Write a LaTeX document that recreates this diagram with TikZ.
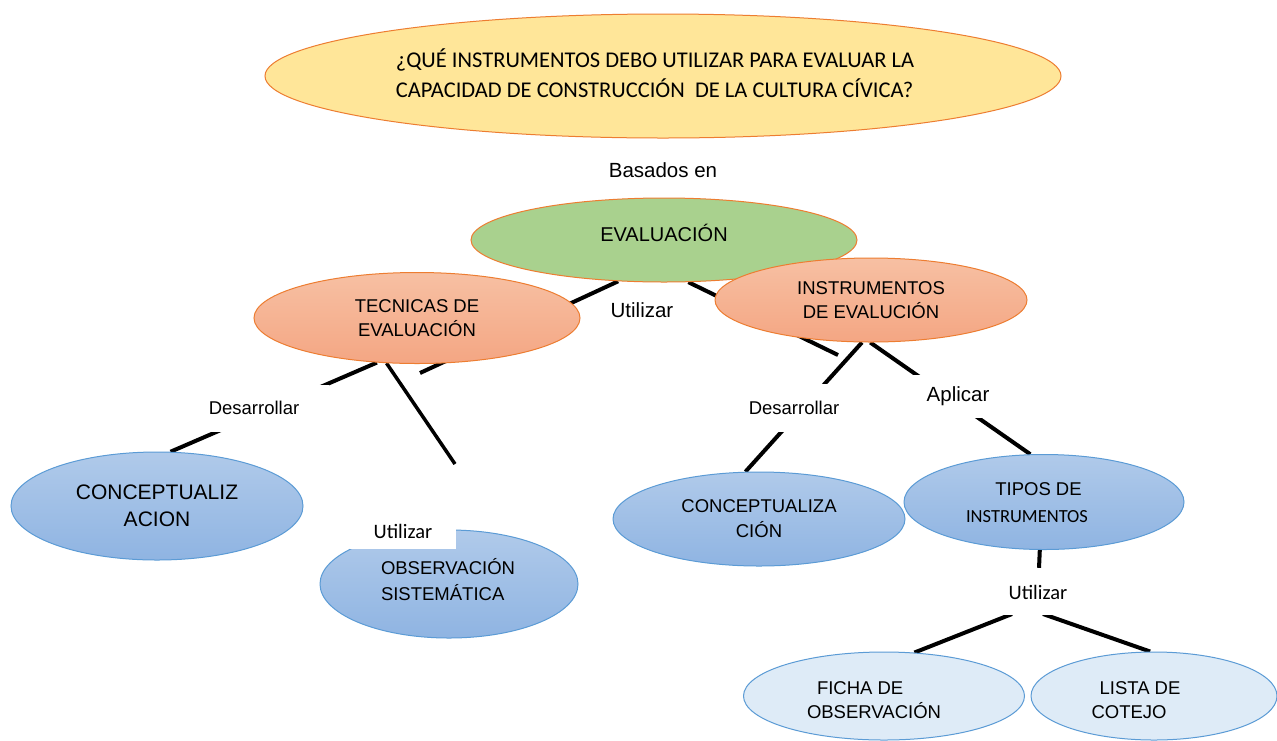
\documentclass[tikz,border=0pt]{standalone}
\usepackage{fontspec}
\setmainfont{Liberation Sans}
\newfontfamily\calib{Carlito}
\usetikzlibrary{shapes.geometric}
\pgfdeclarelayer{bg}
\pgfsetlayers{bg,main}
\definecolor{qy}{HTML}{FFE699}
\definecolor{gr}{HTML}{A9D18E}
\definecolor{org}{HTML}{ED7D31}
\definecolor{salT}{HTML}{F7C0A3}
\definecolor{salB}{HTML}{F4A683}
\definecolor{bluT}{HTML}{B0CAEA}
\definecolor{bluB}{HTML}{8FB4E2}
\definecolor{bluD}{HTML}{5B9BD5}
\definecolor{lb}{HTML}{DEEBF7}
\begin{document}
\begin{tikzpicture}[x=1pt,y=-1pt,
  ell/.style={ellipse, inner sep=0pt, align=center, line width=1pt},
  yell/.style={ell, fill=qy, draw=org},
  green/.style={ell, fill=gr, draw=org},
  salm/.style={ell, top color=salT, bottom color=salB, draw=org},
  blue/.style={ell, top color=bluT, bottom color=bluB, draw=bluD},
  lblue/.style={ell, fill=lb, draw=bluD},
  txt/.style={inner sep=0pt, align=left},
  lbl/.style={fill=white, inner sep=0pt},
  conn/.style={line width=4pt, black},
  f18/.style={font=\fontsize{18.5}{24}\selectfont},
]
\useasboundingbox (0,0) rectangle (1277,740);

% ellipses
\node[yell, minimum width=796, minimum height=124] (q) at (663,76) {};
\node[txt, font=\calib\fontsize{22.5}{30}\selectfont] (qt) at (655,73)
  {¿QUÉ INSTRUMENTOS DEBO UTILIZAR PARA EVALUAR LA\\CAPACIDAD DE CONSTRUCCIÓN\ \ DE LA CULTURA CÍVICA?};
\node[font=\fontsize{20.5}{24}\selectfont, inner sep=0pt] (bas) at (663,170) {Basados en};
\node[green, minimum width=386, minimum height=84, font=\fontsize{20}{24}\selectfont, text height=15pt, text depth=13pt] (eval) at (664,240) {EVALUACIÓN};
\node[salm, minimum width=326, minimum height=91, f18] (tec) at (417,318) {TECNICAS DE\\EVALUACIÓN};
\node[salm, minimum width=312, minimum height=84, f18] (instr) at (871,300) {INSTRUMENTOS\\DE EVALUCIÓN};
\node[blue, minimum width=292, minimum height=108, font=\fontsize{21}{27}\selectfont] (conc1) at (157,506) {CONCEPTUALIZ\\ACION};
\node[blue, minimum width=258, minimum height=108] (obs) at (449,584) {};
\node[txt, font=\fontsize{18.5}{26}\selectfont] (obst) at (448,580) {OBSERVACIÓN\\SISTEMÁTICA};
\node[blue, minimum width=292, minimum height=94, font=\fontsize{18.5}{25}\selectfont] (conc2) at (759,519) {CONCEPTUALIZA\\CIÓN};
\node[blue, minimum width=280, minimum height=95] (tipos) at (1044,502) {};
\node[inner sep=0pt, align=center, font=\fontsize{18.5}{27}\selectfont] (tipost) at (1033,503) {\hspace*{11pt}TIPOS DE\\{\calib INSTRUMENTOS}\hspace*{12pt}};
\node[lblue, minimum width=281, minimum height=88] (ficha) at (884,696) {};
\node[txt, f18] (fichat) at (874,700) {\hspace*{10pt}FICHA DE\\OBSERVACIÓN};
\node[lblue, minimum width=246, minimum height=88] (lista) at (1154,696) {};
\node[txt, f18] (listat) at (1136,700) {\hspace*{8pt}LISTA DE\\COTEJO};

% labels
\node[inner sep=0pt, font=\fontsize{20.5}{24}\selectfont] (u1) at (642,310) {Utilizar};
\node[lbl, minimum width=150, minimum height=47, f18] (d1) at (254,408) {Desarrollar};
\node[lbl, minimum width=106, minimum height=36, font=\calib\fontsize{20.5}{24}\selectfont] (u2) at (403,531) {Utilizar};
\node[lbl, minimum width=110, minimum height=48, f18] (d2) at (794,408) {Desarrollar};
\node[lbl, minimum width=110, minimum height=43, font=\fontsize{20.5}{24}\selectfont] (ap) at (958,396.5) {Aplicar};
\node[lbl, minimum width=90, minimum height=47, font=\calib\fontsize{20.5}{24}\selectfont, text height=18pt, text depth=2pt] (u3) at (1038,591.5) {Utilizar};

\coordinate (bend) at (838,355);
\coordinate (aend) at (420,373);
\coordinate (dend) at (455,464);
\coordinate (u3l) at (1012,614);
\coordinate (u3r) at (1043,614);

\begin{pgfonlayer}{bg}
\fill[white] (0,0) rectangle (1277,740);
\draw[conn] (eval.222) -- (aend);
\draw[conn] (eval.-60) -- (bend);
\draw[conn] (tec.-132) -- (conc1.76);
\draw[conn, line width=3.5pt] (tec.-124) -- (dend);
\draw[conn] (instr.-102) -- (conc2.106);
\draw[conn] (instr.-91) -- (tipos.106);
\draw[conn] (tipos.-95) -- (u3);
\draw[conn] (u3l) -- (ficha.55);
\draw[conn] (u3r) -- (lista.95);
\end{pgfonlayer}
\end{tikzpicture}
\end{document}
